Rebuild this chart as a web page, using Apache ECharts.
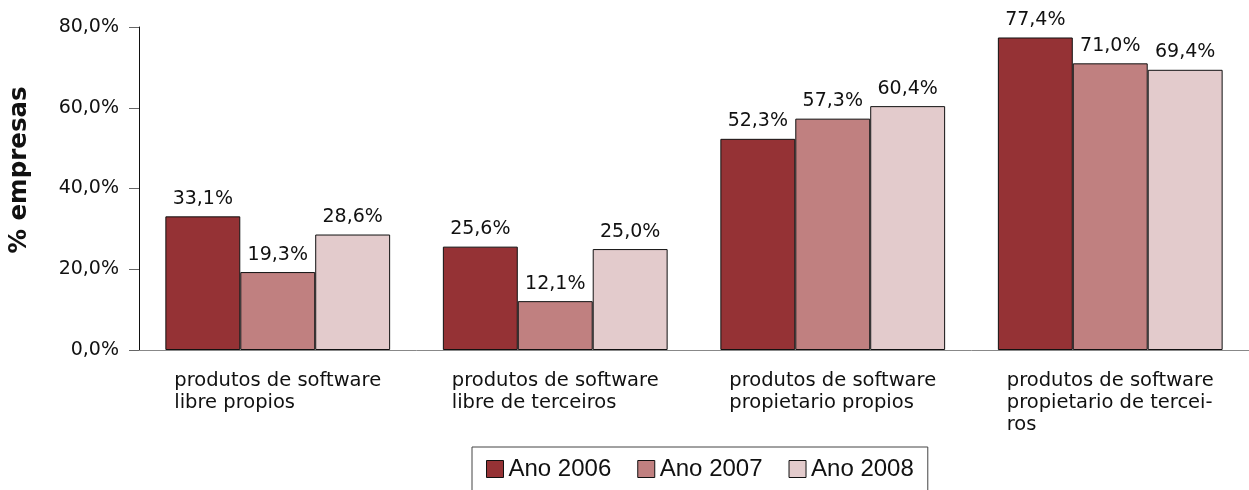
<!DOCTYPE html>
<html>
<head>
<meta charset="utf-8">
<script src="https://cdn.jsdelivr.net/npm/echarts@6/dist/echarts.min.js"></script>
<style>
  html, body { margin: 0; padding: 0; background: #fff; }
  #chart { width: 1249px; height: 490px; }
</style>
</head>
<body>
<div id="chart"></div>
<script>
const categories = [
  "produtos de software\nlibre propios",
  "produtos de software\nlibre de terceiros",
  "produtos de software\npropietario propios",
  "produtos de software\npropietario de tercei-\nros"
];
const seriesNames = ["Ano 2006", "Ano 2007", "Ano 2008"];
const ano2006 = [33.1, 25.6, 52.3, 77.4];
const ano2007 = [19.3, 12.1, 57.3, 71.0];
const ano2008 = [28.6, 25.0, 60.4, 69.4];
const yTicks = [0, 20, 40, 60, 80];

const colors = ["#953235", "#c08080", "#e3cbcc"];
const font = "DejaVu Sans";

const chart = echarts.init(document.getElementById("chart"));

function pct(v) {
  return v.toFixed(1).replace(".", ",") + "%";
}

function barSeries(name, data) {
  return {
    name: name,
    type: "bar",
    data: data,
    barGap: "0%",
    barCategoryGap: "19%",
    itemStyle: { borderColor: "#111", borderWidth: 1 },
    label: {
      show: true,
      position: "top",
      distance: 8,
      color: "#111",
      fontFamily: font,
      fontSize: 19,
      formatter: (p) => pct(p.value)
    }
  };
}

const option = {
  animation: false,
  color: colors,
  grid: { left: 139, right: -4, top: 27, bottom: 140 },
  legend: {
    left: 472,
    top: 447,
    itemWidth: 17,
    itemHeight: 17,
    itemGap: 26,
    padding: [10, 14, 12, 14],
    borderColor: "#444",
    borderWidth: 1,
    icon: "rect",
    itemStyle: { borderColor: "#111", borderWidth: 1 },
    textStyle: { fontFamily: "Liberation Sans", fontSize: 24, color: "#111" },
    data: seriesNames
  },
  graphic: [{
    type: "text",
    x: 20,
    y: 170,
    rotation: Math.PI / 2,
    style: {
      text: "% empresas",
      fontFamily: font,
      fontWeight: "bold",
      fontSize: 24.5,
      fill: "#111",
      textAlign: "center",
      textVerticalAlign: "middle"
    }
  }],
  xAxis: {
    type: "category",
    data: categories,
    axisLine: { lineStyle: { color: "#888", width: 1 } },
    axisTick: { alignWithLabel: true, length: 10, lineStyle: { color: "#666" } },
    axisLabel: {
      margin: 20,
      interval: 0,
      formatter: (v) => "{a|" + v.split("\n").join("}\n{a|") + "}",
      rich: {
        a: {
          width: 207,
          align: "left",
          fontFamily: font,
          fontSize: 19.5,
          lineHeight: 22,
          color: "#111"
        }
      }
    }
  },
  yAxis: {
    type: "value",
    min: yTicks[0],
    max: yTicks[yTicks.length - 1],
    interval: 20,
    axisLine: { show: true, lineStyle: { color: "#111", width: 1 } },
    axisTick: { show: true, length: 10, lineStyle: { color: "#666" } },
    splitLine: { show: false },
    axisLabel: {
      margin: 20,
      fontFamily: font,
      fontSize: 19,
      color: "#111",
      formatter: (v) => pct(v)
    }
  },
  series: [
    barSeries(seriesNames[0], ano2006),
    barSeries(seriesNames[1], ano2007),
    barSeries(seriesNames[2], ano2008)
  ]
};

chart.setOption(option);
</script>
</body>
</html>
